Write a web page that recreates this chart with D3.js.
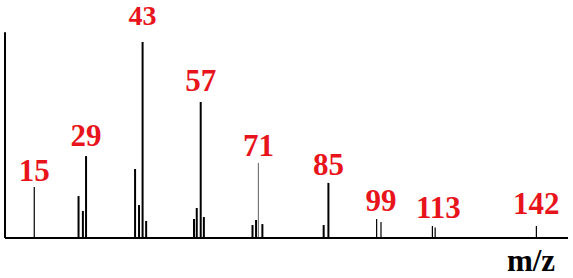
<!DOCTYPE html>
<html>
<head>
<meta charset="utf-8">
<script src="https://cdn.jsdelivr.net/npm/d3@7"></script>
<style>
  html, body { margin: 0; padding: 0; background: #fff; }
  svg { display: block; }
</style>
</head>
<body>
<svg id="chart" width="573" height="278"></svg>
<script>
// Peak positions (apparent m/z along the drawn axis) and relative intensities
const peakPos = [15, 26.2, 27.3, 28.1, 40.5, 41.5, 42.4, 43.3, 55.4, 56.1, 57.1, 57.9,
                 70.2, 71.1, 71.7, 72.7, 88.2, 89.4, 101.6, 102.7, 115.7, 116.4, 142];
const peakInt = [26, 21.4, 13.8, 41.8, 35.2, 16.8, 100, 8.7, 9.7, 15.3, 69.4, 10.7,
                 6.6, 9.2, 38.3, 7.1, 6.6, 28.1, 9.7, 8.2, 6.1, 5.3, 6.1];
// Labelled fragment peaks
const labelText = ["15", "29", "43", "57", "71", "85", "99", "113", "142"];
const labelPeak = [0, 3, 6, 10, 14, 17, 19, 20, 22];
const axisTitle = "m/z";

const svg = d3.select("#chart");
const x = d3.scaleLinear().domain([7.6, 150]).range([5, 568]);
const y = d3.scaleLinear().domain([0, 100]).range([238, 42]);

const thin = new Set([0, 14, 22, 18, 19, 20, 21]);

svg.append("g").selectAll("line").data(peakPos).join("line")
  .attr("x1", d => x(d)).attr("x2", d => x(d))
  .attr("y1", y(0)).attr("y2", (d, i) => y(peakInt[i]))
  .attr("stroke", (d, i) => i === 14 ? "#777" : "#000")
  .attr("stroke-width", (d, i) => thin.has(i) ? 1.2 : 2);

// axes
svg.append("line").attr("x1", x(7.6)).attr("x2", x(150))
  .attr("y1", y(0)).attr("y2", y(0)).attr("stroke", "#000").attr("stroke-width", 2);
svg.append("line").attr("x1", x(7.6)).attr("x2", x(7.6))
  .attr("y1", y(0)).attr("y2", y(105)).attr("stroke", "#000").attr("stroke-width", 2);

// labels
const labelDy = [-6, -10, -17, -11, -7, -8, -11, -8, -12];
svg.append("g").selectAll("text").data(labelText).join("text")
  .attr("x", (d, i) => x(peakPos[labelPeak[i]]) + (i === 7 ? 6 : 0))
  .attr("y", (d, i) => y(peakInt[labelPeak[i]]) + labelDy[i])
  .attr("text-anchor", "middle")
  .attr("fill", "#e8141c")
  .style("font-family", '"Liberation Serif"')
  .style("font-weight", "bold")
  .style("font-size", (d, i) => (i === 2 ? 28 : 31) + "px")
  .text(d => d);

svg.append("text").attr("x", 531).attr("y", 271)
  .attr("text-anchor", "middle")
  .attr("fill", "#000")
  .style("font-family", '"Liberation Serif"')
  .style("font-weight", "bold")
  .style("font-size", "31px")
  .text(axisTitle);
</script>
</body>
</html>
